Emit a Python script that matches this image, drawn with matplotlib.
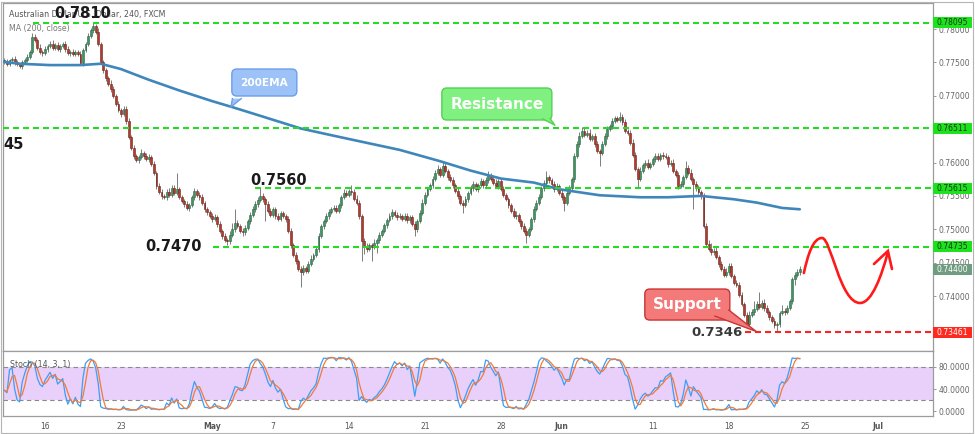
import numpy as np
import pandas as pd
import matplotlib
matplotlib.use('Agg')
import matplotlib.pyplot as plt
from matplotlib.patches import FancyBboxPatch, Polygon, Rectangle, PathPatch
from matplotlib.path import Path
from matplotlib.lines import Line2D
import matplotlib.transforms as mtransforms

# ---------------- data (prices in pips, 4h bars; bar 0 = 16 Apr session start) -------------
FIRST_BAR = -16
OPEN0 = 7753
CLOSE = [
    7751, 7748, 7753, 7755, 7750, 7747, 7744, 7750, 7753, 7758,
    7766, 7788, 7784, 7772, 7766, 7764, 7770, 7774, 7778, 7772,
    7776, 7770, 7774, 7778, 7770, 7764, 7766, 7763, 7765, 7762,
    7749, 7768, 7778, 7790, 7798, 7804, 7796, 7778, 7750, 7738,
    7726, 7718, 7710, 7700, 7688, 7678, 7672, 7680, 7662, 7638,
    7622, 7610, 7604, 7608, 7614, 7610, 7605, 7608, 7598, 7585,
    7565, 7556, 7550, 7548, 7556, 7552, 7562, 7555, 7560, 7548,
    7542, 7538, 7532, 7536, 7548, 7558, 7552, 7548, 7540, 7530,
    7526, 7520, 7515, 7518, 7508, 7498, 7490, 7484, 7482, 7492,
    7500, 7510, 7505, 7498, 7496, 7502, 7512, 7522, 7530, 7538,
    7544, 7550, 7545, 7538, 7528, 7522, 7530, 7520, 7516, 7524,
    7520, 7515, 7498, 7476, 7462, 7452, 7440, 7436, 7442, 7438,
    7448, 7456, 7462, 7470, 7490, 7505, 7512, 7520, 7526, 7530,
    7532, 7528, 7536, 7548, 7555, 7552, 7558, 7556, 7546, 7540,
    7520, 7482, 7475, 7470, 7476, 7474, 7480, 7484, 7492, 7498,
    7506, 7514, 7520, 7526, 7522, 7518, 7520, 7516, 7520, 7514,
    7518, 7508, 7500, 7512, 7525, 7540, 7552, 7560, 7566, 7575,
    7585, 7590, 7582, 7595, 7588, 7578, 7574, 7566, 7558, 7550,
    7540, 7536, 7545, 7555, 7562, 7568, 7560, 7566, 7572, 7566,
    7574, 7582, 7575, 7570, 7565, 7572, 7560, 7552, 7545, 7536,
    7528, 7520, 7522, 7512, 7505, 7498, 7492, 7500, 7515, 7530,
    7540, 7548, 7562, 7570, 7578, 7574, 7568, 7560, 7565, 7555,
    7548, 7540, 7555, 7562, 7575, 7610, 7628, 7640, 7648, 7642,
    7645, 7636, 7640, 7628, 7618, 7615, 7628, 7640, 7650, 7655,
    7662, 7666, 7664, 7668, 7660, 7648, 7645, 7630, 7612, 7590,
    7576, 7588, 7596, 7600, 7594, 7598, 7605, 7610, 7606, 7612,
    7610, 7608, 7598, 7600, 7588, 7582, 7565, 7568, 7578, 7592,
    7585, 7576, 7568, 7562, 7556, 7550, 7505, 7478, 7470, 7466,
    7468, 7458, 7448, 7440, 7432, 7436, 7445, 7430, 7420, 7416,
    7402, 7388, 7372, 7358, 7372, 7376, 7380, 7388, 7384, 7390,
    7382, 7376, 7368, 7362, 7356, 7358, 7374, 7378, 7376, 7382,
    7392, 7426, 7432, 7436, 7440,
]
UPPER_WICK = [
    3, 4, 2, 3, 4, 3, 2, 4, 3, 4,
    3, 6, 4, 3, 5, 3, 4, 3, 4, 5,
    3, 4, 4, 3, 4, 5, 3, 4, 3, 4,
    5, 4, 3, 4, 3, 6, 4, 5, 3, 4,
    4, 3, 5, 4, 3, 4, 3, 4, 5, 4,
    3, 4, 3, 4, 6, 3, 4, 5, 3, 4,
    3, 4, 5, 3, 4, 6, 4, 5, 24, 4,
    3, 4, 5, 3, 4, 4, 3, 4, 5, 3,
    4, 3, 4, 5, 3, 4, 3, 4, 3, 5,
    10, 20, 4, 3, 4, 5, 3, 4, 5, 4,
    4, 12, 4, 3, 5, 4, 3, 4, 5, 3,
    4, 3, 5, 4, 3, 4, 3, 5, 4, 3,
    4, 5, 3, 4, 5, 3, 4, 5, 4, 3,
    4, 5, 3, 4, 5, 4, 3, 8, 4, 5,
    4, 3, 5, 4, 3, 4, 5, 3, 4, 3,
    4, 3, 5, 4, 3, 4, 5, 3, 4, 5,
    3, 4, 5, 3, 4, 5, 4, 3, 4, 5,
    4, 6, 3, 6, 4, 3, 5, 4, 3, 4,
    3, 4, 5, 3, 4, 5, 3, 4, 5, 3,
    4, 6, 3, 4, 5, 3, 4, 5, 3, 4,
    3, 4, 5, 3, 4, 5, 4, 3, 4, 5,
    4, 5, 3, 4, 10, 4, 3, 5, 4, 3,
    4, 3, 5, 4, 3, 5, 4, 6, 5, 4,
    4, 5, 3, 4, 5, 3, 4, 5, 4, 3,
    5, 4, 3, 7, 4, 5, 3, 4, 5, 4,
    4, 5, 3, 4, 5, 3, 4, 5, 4, 3,
    4, 5, 3, 4, 5, 3, 4, 5, 3, 10,
    4, 5, 3, 4, 5, 3, 4, 5, 6, 10,
    4, 5, 3, 4, 5, 6, 4, 5, 3, 4,
    5, 4, 3, 4, 5, 4, 12, 4, 18, 4,
    5, 4, 3, 4, 5, 3, 4, 8, 4, 5,
    4, 3, 4, 4, 5,
]
LOWER_WICK = [
    3, 4, 3, 2, 4, 3, 3, 4, 3, 2,
    3, 4, 3, 4, 3, 4, 3, 4, 3, 4,
    4, 3, 4, 3, 4, 3, 4, 3, 4, 3,
    3, 4, 3, 4, 3, 4, 3, 4, 3, 4,
    4, 3, 4, 3, 4, 3, 4, 3, 4, 3,
    3, 4, 3, 4, 3, 4, 3, 4, 3, 4,
    4, 3, 4, 3, 4, 3, 4, 3, 4, 3,
    3, 4, 3, 4, 3, 4, 3, 4, 3, 4,
    4, 3, 4, 3, 4, 3, 4, 3, 6, 4,
    3, 4, 3, 4, 6, 4, 3, 4, 3, 4,
    4, 3, 4, 25, 3, 4, 3, 4, 3, 4,
    3, 4, 3, 4, 3, 4, 3, 22, 4, 3,
    4, 3, 4, 3, 4, 3, 4, 3, 4, 3,
    3, 4, 3, 4, 3, 4, 3, 4, 3, 4,
    4, 30, 12, 4, 3, 22, 4, 15, 4, 3,
    3, 4, 3, 4, 3, 4, 3, 4, 3, 4,
    4, 3, 10, 4, 3, 4, 3, 4, 3, 4,
    3, 4, 3, 4, 3, 4, 3, 4, 3, 4,
    4, 12, 3, 4, 3, 4, 3, 4, 3, 4,
    3, 4, 3, 4, 3, 4, 3, 4, 3, 4,
    4, 3, 4, 3, 4, 3, 12, 4, 3, 4,
    3, 4, 3, 4, 3, 4, 3, 4, 3, 4,
    4, 12, 3, 4, 3, 4, 3, 4, 3, 4,
    3, 4, 3, 4, 3, 20, 4, 3, 4, 3,
    4, 3, 4, 3, 4, 3, 4, 3, 4, 3,
    12, 4, 3, 4, 3, 4, 3, 4, 3, 4,
    4, 3, 4, 3, 4, 3, 4, 3, 4, 3,
    4, 3, 38, 4, 3, 4, 3, 4, 3, 4,
    4, 3, 4, 3, 4, 3, 4, 3, 4, 3,
    4, 3, 4, 6, 4, 3, 4, 3, 4, 3,
    4, 3, 4, 3, 4, 10, 4, 3, 4, 3,
    3, 4, 10, 3, 4,
]
MA_BARS = [-16.6, -10, 2, 14, 22, 30, 41, 53, 66, 74, 85, 101, 113, 124, 140,
           156, 168, 180, 193, 203, 219, 235, 246, 259, 272, 281, 291, 298]
MA_VALS = [7751, 7748, 7746, 7746, 7748, 7740, 7724, 7708, 7692, 7683, 7670, 7651,
           7641, 7632, 7619, 7602, 7588, 7576, 7570, 7560, 7551, 7548, 7548, 7550,
           7545, 7540, 7532, 7530]

LEVELS = [0.78095, 0.76511, 0.75615, 0.74735]
LEVEL_START = [-4.7, -16.6, 82.9, 66.3]
SUPPORT = 0.73461
SUPPORT_START = 276.4
LAST = 0.74400

PRICE_TICKS = [0.740, 0.745, 0.750, 0.755, 0.760, 0.765, 0.770, 0.775, 0.780]
HIDDEN_TICKS = [0.765]          # fully covered by a level label in the reference
STOCH_TICKS = [0, 40, 80]
TICK_BARS = [0, 30, 66, 90, 120, 150, 180, 204, 240, 270, 300, 329]
TICK_LABELS = ['16', '23', 'May', '7', '14', '21', '28', 'Jun', '11', '18', '25', 'Jul']
MONTHS = {'May', 'Jun', 'Jul'}

# ---------------- derived OHLC ----------------
close = np.array(CLOSE) / 10000.0
opens = np.concatenate([[OPEN0 / 10000.0], close[:-1]])
high = np.maximum(opens, close) + np.array(UPPER_WICK) / 10000.0
low = np.minimum(opens, close) - np.array(LOWER_WICK) / 10000.0
bars = np.arange(FIRST_BAR, FIRST_BAR + len(close))

hi_s, lo_s, cl_s = pd.Series(high), pd.Series(low), pd.Series(close)
hh = hi_s.rolling(14, min_periods=1).max()
ll = lo_s.rolling(14, min_periods=1).min()
stoch_k = 100 * (cl_s - ll) / (hh - ll)
stoch_d = stoch_k.rolling(3, min_periods=1).mean()

# ---------------- figure ----------------
W, H = 975, 434
fig = plt.figure(figsize=(W / 100, H / 100), dpi=100)
fig.patch.set_facecolor('white')

XMIN, XMAX = -16.58, 350.6
YMIN, YMAX = 0.73177, 0.78390
ax = fig.add_axes([3 / W, (H - 351) / H, 930 / W, 348 / H])
ax2 = fig.add_axes([3 / W, (H - 416) / H, 930 / W, 65 / H])

PX_X = 930 / (XMAX - XMIN)      # pixels per bar
PX_Y = 348 / (YMAX - YMIN)      # pixels per price unit

for a in (ax, ax2):
    a.set_xlim(XMIN, XMAX)
    for s in a.spines.values():
        s.set_color('#9c9c9c')
        s.set_linewidth(0.9)
ax.set_ylim(YMIN, YMAX)
ax2.set_ylim(-9, 109)

# candles
up = close >= opens
body_lo = np.minimum(opens, close)
body_h = np.maximum(np.abs(close - opens), 0.00005)
ax.vlines(bars, low, high, color='#7d7d7d', lw=0.7, zorder=2)
ax.bar(bars[up], body_h[up], bottom=body_lo[up], width=0.74, color='#3f9462',
       edgecolor='#2a6642', linewidth=0.4, zorder=3)
ax.bar(bars[~up], body_h[~up], bottom=body_lo[~up], width=0.74, color='#b23b2c',
       edgecolor='#6e1f16', linewidth=0.4, zorder=3)

# MA
ax.plot(MA_BARS, np.array(MA_VALS) / 10000.0, color='#3f86ba', lw=1.9, zorder=4,
        solid_capstyle='round', solid_joinstyle='round')

# levels
dash = (0, (2.9, 1.9))
for lv, st in zip(LEVELS, LEVEL_START):
    ax.hlines(lv, st, XMAX, colors='#22dd22', lw=1.5, linestyles=[dash], zorder=5)
ax.hlines(SUPPORT, SUPPORT_START, XMAX, colors='#ff2222', lw=1.5, linestyles=[dash], zorder=5)

# right price axis
ax.yaxis.tick_right()
ax.set_yticks(PRICE_TICKS)
ax.set_yticklabels(['' if any(abs(t - h) < 1e-9 for h in HIDDEN_TICKS) else f'{t:.5f}'
                    for t in PRICE_TICKS])
ax.tick_params(axis='y', direction='out', length=2.5, width=0.6, color='#888888',
               labelsize=5.5, labelcolor='#666666', pad=1.5)
ax.set_xticks([])

blend = mtransforms.blended_transform_factory(ax.transAxes, ax.transData)
box_w = 39 / 930
box_h = 11 / PX_Y


def price_box(val, fc, tc):
    ax.add_patch(Rectangle((1.0, val - box_h / 2), box_w, box_h, transform=blend,
                           facecolor=fc, edgecolor='none', clip_on=False, zorder=10))
    ax.text(1.0 + 3 / 930, val, f'{val:.5f}', transform=blend, ha='left', va='center',
            fontsize=5.5, color=tc, clip_on=False, zorder=11)


for lv in LEVELS:
    price_box(lv, '#1fe21f', '#143814')
price_box(LAST, '#6f9c80', 'white')
price_box(SUPPORT, '#ff2a1f', 'white')

# header texts
ax.text(6 / 930, 1 - 12 / 348, 'Australian Dollar/U.S. Dollar, 240, FXCM', transform=ax.transAxes,
        fontsize=5.7, color='#555555', ha='left', va='center', zorder=6)
ax.text(6 / 930, 1 - 26 / 348, 'MA (200, close)', transform=ax.transAxes,
        fontsize=5.7, color='#777777', ha='left', va='center', zorder=6)

# level annotations
ax.text(15.0, 0.78240, '0.7810', fontsize=10.5, fontweight='bold', color='#1a1a1a',
        ha='center', va='center', zorder=9)
ax.text(XMIN + 0.3, 0.76263, '45', fontsize=10.5, fontweight='bold', color='#1a1a1a',
        ha='left', va='center', zorder=9)
ax.text(92.4, 0.75738, '0.7560', fontsize=10.5, fontweight='bold', color='#1a1a1a',
        ha='center', va='center', zorder=9)
ax.text(50.7, 0.74735, '0.7470', fontsize=10.5, fontweight='bold', color='#1a1a1a',
        ha='center', va='center', zorder=9)
ax.text(265.3, 0.73461, '0.7346', fontsize=9.5, fontweight='bold', color='#3a3a3a',
        ha='center', va='center', zorder=9)


# callouts
def callout(text, cx, cy, wpx, hpx, tail, fc, ec, fs):
    w = wpx / PX_X
    h = hpx / PX_Y
    aspect = PX_X / PX_Y
    box = FancyBboxPatch((cx - w / 2, cy - h / 2), w, h,
                         boxstyle=f'round,pad=0,rounding_size={5 / PX_X}',
                         mutation_aspect=aspect, facecolor=fc, edgecolor=ec, lw=1.0, zorder=7)
    ax.add_patch(box)
    ax.add_patch(Polygon(tail, closed=True, facecolor=fc, edgecolor='none', zorder=7.5))
    (x0, y0), (x1, y1), (xt, yt) = tail
    ax.add_line(Line2D([x0, xt, x1], [y0, yt, y1], color=ec, lw=1.0, zorder=7.6))
    ax.text(cx, cy, text, fontsize=fs, fontweight='bold', color='white',
            ha='center', va='center', zorder=8)


callout('200EMA', 86.6, 0.77199, 65, 27,
        [(74.0, 0.76958), (77.5, 0.76958), (73.4, 0.76832)], '#9cc2f7', '#6c9fe8', 7.6)
callout('Resistance', 178.4, 0.76877, 110, 32,
        [(196.5, 0.76654), (199.5, 0.76654), (201.3, 0.76560)], '#80f080', '#52d152', 11)
callout('Support', 253.6, 0.73873, 85, 31,
        [(264.5, 0.73700), (270.0, 0.73790), (280.8, 0.73470)], '#f47a7a', '#c93434', 11)

# red projection wave
WAVE = [(299.6, 0.74345), (301.2, 0.74615), (303.2, 0.74870), (306.8, 0.74870),
        (310.3, 0.74870), (313.9, 0.73896), (321.8, 0.73896),
        (326.5, 0.73896), (330.4, 0.74315), (332.8, 0.74660)]
codes = [Path.MOVETO] + [Path.CURVE4] * 9
ax.add_patch(PathPatch(Path(WAVE, codes), facecolor='none', edgecolor='#ff1a1a',
                       lw=1.9, zorder=6, capstyle='round'))
ARROW = [(327.3, 0.74480), (332.8, 0.74675), (334.4, 0.74405)]
ax.plot([p[0] for p in ARROW], [p[1] for p in ARROW], color='#ff1a1a', lw=1.9,
        zorder=6, solid_capstyle='round', solid_joinstyle='miter')

# ---------------- stochastic pane ----------------
ax2.axhspan(20, 80, color='#e8d0fa', zorder=1, lw=0)
ax2.axhline(80, color='#8a8a8a', lw=0.8, ls=(0, (4, 3)), zorder=2)
ax2.axhline(20, color='#8a8a8a', lw=0.8, ls=(0, (4, 3)), zorder=2)
ax2.plot(bars, stoch_k, color='#3d9ef5', lw=0.9, zorder=3)
ax2.plot(bars, stoch_d, color='#f27a3a', lw=0.9, zorder=4)
ax2.text(7 / 930, 0.8, 'Stoch (14, 3, 1)', transform=ax2.transAxes, fontsize=5.7,
         color='#555555', ha='left', va='center', zorder=6)

ax2.yaxis.tick_right()
ax2.set_yticks(STOCH_TICKS)
ax2.set_yticklabels([f'{t:.4f}' for t in STOCH_TICKS])
ax2.tick_params(axis='y', direction='out', length=2.5, width=0.6, color='#888888',
                labelsize=5.5, labelcolor='#666666', pad=1.5)
ax2.set_xticks(TICK_BARS)
ax2.set_xticklabels(TICK_LABELS)
ax2.tick_params(axis='x', length=0, labelsize=5.5, labelcolor='#555555', pad=4)
for lab in ax2.get_xticklabels():
    if lab.get_text() in MONTHS:
        lab.set_fontweight('bold')

# outer frame
fig.add_artist(Rectangle((0.5 / W, 1.5 / H), 972 / W, 431 / H, transform=fig.transFigure,
                         fill=False, edgecolor='#b5b5b5', lw=0.8))

fig.savefig('out.png', dpi=100)
